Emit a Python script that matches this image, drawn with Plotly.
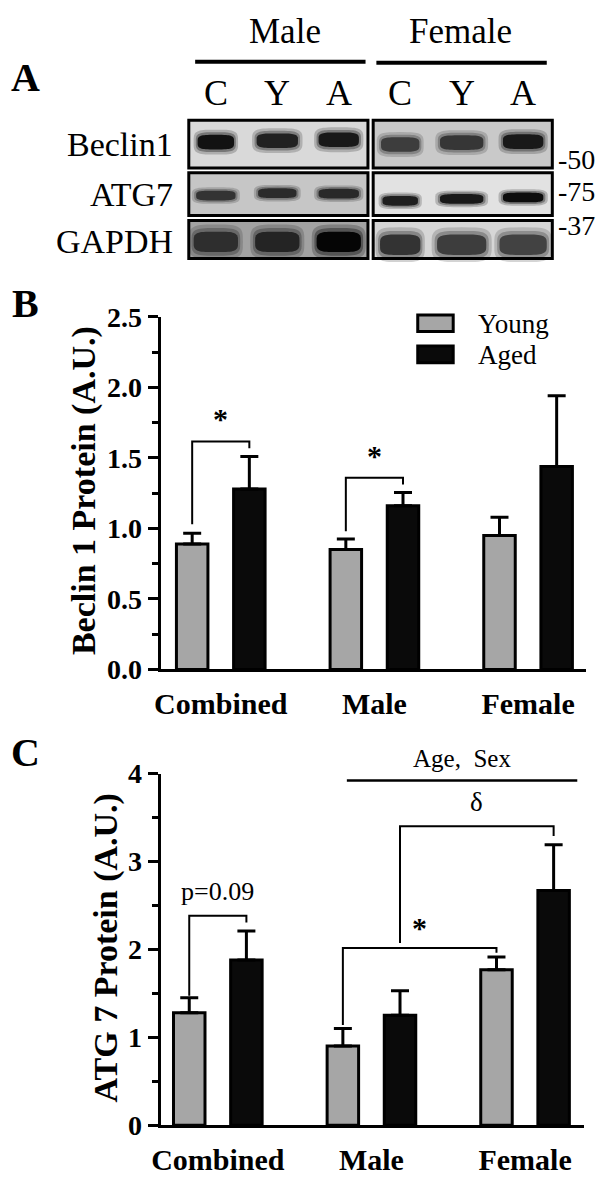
import numpy as np
import plotly.graph_objects as go

W, H = 597, 1186

# ---------------- data ----------------
groups = ["Combined", "Male", "Female"]
series_names = ["Young", "Aged"]

beclin_young = [0.89, 0.85, 0.95]
beclin_young_err = [0.075, 0.075, 0.13]
beclin_aged = [1.28, 1.16, 1.44]
beclin_aged_err = [0.23, 0.095, 0.50]

atg7_young = [1.28, 0.90, 1.77]
atg7_young_err = [0.17, 0.20, 0.145]
atg7_aged = [1.88, 1.25, 2.67]
atg7_aged_err = [0.33, 0.28, 0.52]

beclin_ticks = [0.0, 0.5, 1.0, 1.5, 2.0, 2.5]
beclin_ticklabels = ["0.0", "0.5", "1.0", "1.5", "2.0", "2.5"]
atg7_ticks = [0, 1, 2, 3, 4]
atg7_ticklabels = ["0", "1", "2", "3", "4"]

blot_rows = ["Beclin1", "ATG7", "GAPDH"]
blot_sexes = ["Male", "Female"]
blot_lanes = ["C", "Y", "A", "C", "Y", "A"]
mw_markers = ["-50", "-75", "-37"]
# relative band darkness (0..1), rows x lanes
band_intensity = [
    [0.93, 0.87, 0.90, 0.76, 0.79, 0.90],
    [0.80, 0.83, 0.84, 0.88, 0.90, 0.95],
    [0.82, 0.86, 0.98, 0.80, 0.76, 0.74],
]

# ---------------- style / layout constants ----------------
GRAY = "#a6a6a6"
BLACK = "#0a0a0a"
SERIF = "Liberation Serif, Times New Roman, serif"
OFF = 0.186      # bar offset from group centre
BW = 0.205       # bar width

def px(x):
    return x / W

def py(y):
    return 1 - y / H

# blot axis geometry (lane / row units)
LANE0_PX, LANE_STEP = 210.0, 62.4
ROW0_PX, ROW_STEP = 132.5, 49.0
BOX_TOP = [-0.50, 0.60, 1.60]
BOX_BOT = [0.50, 1.50, 2.40]
BOX_BG = [["#d9d9d9", "#c9c9c9"], ["#c6c6c6", "#e2e2e2"], ["#a2a2a2", "#d6d6d6"]]
BAND_W_PX = [[37, 42, 41, 39, 44, 41], [40, 39, 41, 36, 44, 41], [45, 45, 45, 41, 50, 48]]
BAND_H_PX = [7.5, 5, 10.5]
BAND_DY = [[-0.04, -0.07, -0.09, 0.01, -0.03, -0.05],
           [0.08, 0.03, 0.04, 0.19, 0.15, 0.12],
           [0.05, 0.05, 0.05, 0.11, 0.11, 0.11]]

fig = go.Figure()

# ---------------- bar panels ----------------
def add_bars(xa, ya, young, yerr, aged, aerr):
    for vals, errs, col, sgn in [(young, yerr, GRAY, -1), (aged, aerr, BLACK, 1)]:
        fig.add_trace(go.Bar(
            x=[i + sgn * OFF for i in range(len(groups))], y=vals, width=BW,
            marker=dict(color=col, line=dict(color="black", width=3)),
            error_y=dict(type="data", symmetric=False, array=errs, arrayminus=[0] * len(errs),
                         color="black", thickness=3, width=9),
            xaxis=xa, yaxis=ya, showlegend=False, hoverinfo="skip"))

add_bars("x", "y", beclin_young, beclin_young_err, beclin_aged, beclin_aged_err)
add_bars("x2", "y2", atg7_young, atg7_young_err, atg7_aged, atg7_aged_err)

def bracket(xa, ya, x_left, x_right, y_left, y_top, y_right, width=2):
    fig.add_trace(go.Scatter(
        x=[x_left, x_left, x_right, x_right], y=[y_left, y_top, y_top, y_right],
        mode="lines", line=dict(color="black", width=width),
        xaxis=xa, yaxis=ya, showlegend=False, hoverinfo="skip", cliponaxis=False))

# Panel B brackets
bracket("x", "y", 0 - OFF, 0 + OFF, 1.03, 1.616, 1.568)
bracket("x", "y", 1 - OFF, 1 + OFF, 0.98, 1.36, 1.312)
# Panel C brackets
bracket("x2", "y2", 0 - OFF, 0 + OFF, 1.474, 2.382, 2.305)
bracket("x2", "y2", 1 - OFF, 2 - OFF, 1.141, 2.017, 1.961)
bracket("x2", "y2", 1 + OFF, 2 + OFF, 2.072, 3.402, 3.291)
fig.add_trace(go.Scatter(x=[0.84, 2.34], y=[3.922, 3.922], mode="lines",
                         line=dict(color="black", width=2.5), xaxis="x2", yaxis="y2",
                         showlegend=False, hoverinfo="skip", cliponaxis=False))

ann = []
def text(x, y, s, size, bold=False, xref="paper", yref="paper", xanchor="center",
         yanchor="middle", angle=0):
    ann.append(dict(x=x, y=y, xref=xref, yref=yref, text=s, showarrow=False,
                    xanchor=xanchor, yanchor=yanchor, textangle=angle,
                    font=dict(family=SERIF, size=size, color="black",
                              weight="bold" if bold else "normal")))

# significance text
text(0, 1.78, "*", 30, True, "x", "y")
text(1, 1.515, "*", 30, True, "x", "y")
text(0, 2.66, "p=0.09", 26, False, "x2", "y2")
text(1.314, 2.25, "*", 30, True, "x2", "y2")
text(1.686, 3.679, "δ", 27, False, "x2", "y2")
text(px(460), py(763), "Age,  Sex", 25, False)

# axis titles and panel letters
text(px(76), py(488), "Beclin 1 Protein (A.U.)", 34, True, angle=-90)
text(px(98), py(958), "ATG 7 Protein (A.U.)", 34, True, angle=-90)
text(px(17), py(64), "A", 40, True)
text(px(17), py(296), "B", 40, True)
text(px(17), py(757), "C", 40, True)

# legend (panel B)
shapes = []
for i, (nm, col) in enumerate(zip(series_names, [GRAY, BLACK])):
    y0 = 308 + i * 32
    shapes.append(dict(type="rect", xref="paper", yref="paper", x0=px(415), x1=px(451),
                       y0=py(y0 + 17), y1=py(y0), fillcolor=col,
                       line=dict(color="black", width=3)))
    text(px(474), py(y0 + 9), nm, 27, False, xanchor="left")

# ---------------- panel A (blot) ----------------
text(px(280), py(17), blot_sexes[0], 35)
text(px(458), py(17), blot_sexes[1], 35)
shapes.append(dict(type="line", xref="paper", yref="paper", x0=px(189), x1=px(362),
                   y0=py(48), y1=py(48), line=dict(color="black", width=4)))
shapes.append(dict(type="line", xref="paper", yref="paper", x0=px(373), x1=px(546),
                   y0=py(49), y1=py(49), line=dict(color="black", width=4)))
for i, ln in enumerate(blot_lanes):
    text(i, py(80), ln, 36, False, xref="x3")
for r, nm in enumerate(blot_rows):
    text(px(169), r + (0.05 if r else 0.0), nm, 34, False, yref="y3", xanchor="right")
for r, mw in enumerate(mw_markers):
    text(px(555), [0.32, 0.99, 1.70][r], mw, 28, False, yref="y3", xanchor="left")

def superellipse(cx, cy, a, b, n=4, N=60):
    t = np.linspace(0, 2 * np.pi, N, endpoint=False)
    c, s = np.cos(t), np.sin(t)
    xs = cx + a * np.sign(c) * np.abs(c) ** (2 / n)
    ys = cy + b * np.sign(s) * np.abs(s) ** (2 / n)
    return "M " + " L ".join(f"{x:.4f},{y:.4f}" for x, y in zip(xs, ys)) + " Z"

def grey(v):
    g = int(round(255 * (1 - v)))
    return f"rgb({g},{g},{g})"

HALO = [(1.22, 1.7, 0.22), (1.10, 1.35, 0.35), (1.0, 1.0, 1.0)]

for r in range(len(blot_rows)):
    for s in range(2):
        lanes = range(3 * s, 3 * s + 3)
        x0 = 3 * s - 0.44
        x1 = 3 * s + 2 + 0.475
        shapes.append(dict(type="rect", xref="x3", yref="y3", x0=x0, x1=x1,
                           y0=BOX_TOP[r], y1=BOX_BOT[r], fillcolor=BOX_BG[r][s],
                           line=dict(width=0), layer="above"))
        for ln in lanes:
            v = band_intensity[r][ln]
            a = BAND_W_PX[r][ln] / 2 / LANE_STEP
            b = BAND_H_PX[r] / ROW_STEP
            cy = r + BAND_DY[r][ln]
            for sa, sb, op in HALO:
                shapes.append(dict(type="path", xref="x3", yref="y3",
                                   path=superellipse(ln, cy, a * sa, min(b * sb, 0.44)),
                                   fillcolor=grey(v), opacity=op, line=dict(width=0)))
        shapes.append(dict(type="rect", xref="x3", yref="y3", x0=x0, x1=x1,
                           y0=BOX_TOP[r], y1=BOX_BOT[r], fillcolor="rgba(0,0,0,0)",
                           line=dict(color="black", width=3)))

# ---------------- axes ----------------
tickfont_y = dict(family=SERIF, size=28, color="black", weight="bold")
tickfont_x = dict(family=SERIF, size=30, color="black", weight="bold")

def yax(domain, rng, tv, tt, minor_dtick):
    return dict(domain=domain, range=rng, tickvals=tv, ticktext=tt, ticks="outside",
                ticklen=10, tickwidth=3, tickcolor="black", showline=True, linewidth=3,
                linecolor="black", showgrid=False, zeroline=False, tickfont=tickfont_y,
                minor=dict(dtick=minor_dtick, tick0=0, ticks="outside", ticklen=6,
                           tickwidth=3, tickcolor="black", showgrid=False))

def xax(domain, rng, anchor):
    return dict(domain=domain, range=rng, tickvals=list(range(len(groups))), ticktext=groups,
                ticks="", showline=True, linewidth=3, linecolor="black", showgrid=False,
                zeroline=False, tickfont=tickfont_x, anchor=anchor, ticklabelstandoff=6)

fig.update_layout(
    width=W, height=H, margin=dict(l=0, r=0, t=0, b=0),
    paper_bgcolor="white", plot_bgcolor="rgba(0,0,0,0)",
    barmode="overlay", showlegend=False,
    xaxis=xax([px(154), px(586)], [-0.391, 2.378], "y"),
    yaxis=dict(**yax([py(672), py(310)], [0, 2.5], beclin_ticks, beclin_ticklabels, 0.25), anchor="x"),
    xaxis2=xax([px(154), px(584)], [-0.372, 2.385], "y2"),
    yaxis2=dict(**yax([py(1140), py(779)], [0, 4], atg7_ticks, atg7_ticklabels, 0.5), anchor="x2"),
    xaxis3=dict(domain=[0, 1], range=[(0 - LANE0_PX) / LANE_STEP, (W - LANE0_PX) / LANE_STEP],
                visible=False, anchor="y3", fixedrange=True),
    yaxis3=dict(domain=[0, 1], range=[(H - ROW0_PX) / ROW_STEP, (0 - ROW0_PX) / ROW_STEP],
                visible=False, anchor="x3", fixedrange=True),
    annotations=ann, shapes=shapes,
)

fig.write_html("out.html", config={"displayModeBar": False},
               post_script="document.body.style.margin='0';document.body.style.overflow='hidden';")
